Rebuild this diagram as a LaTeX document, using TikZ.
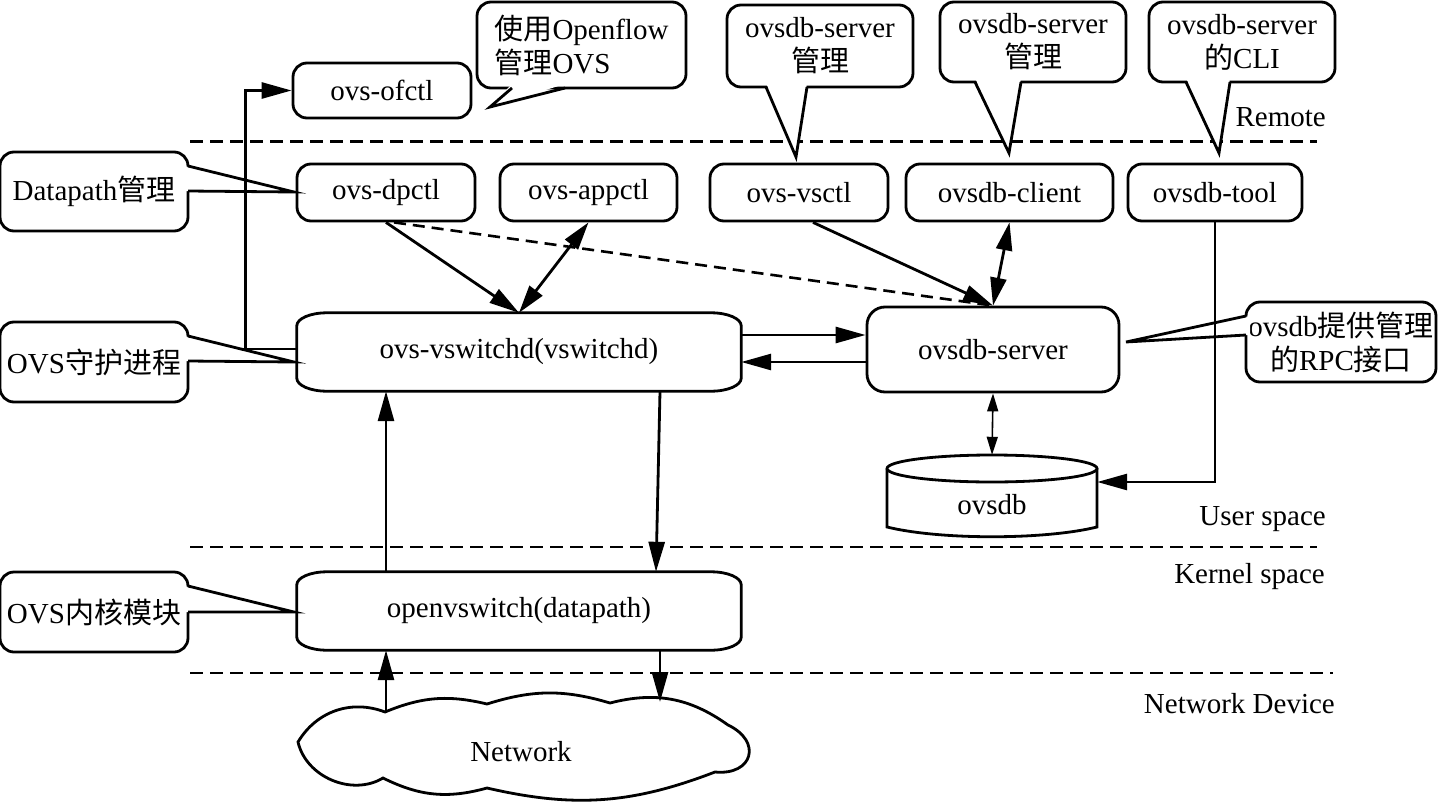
\documentclass[tikz,border=0pt]{standalone}
\usepackage{fontspec}
\setmainfont{Liberation Serif}
\newfontfamily\cjkfont{Noto Sans CJK SC}
\newcommand\zhtext[1]{{\cjkfont #1}}
\usetikzlibrary{arrows.meta}
\begin{document}
\begin{tikzpicture}[x=1pt,y=-1pt,
  font=\fontsize{29}{34}\selectfont,
  box/.style={draw, line width=2.8pt, rounded corners=14pt, fill=white, inner sep=0pt, minimum height=57pt},
  widebox/.style={fill=white, inner sep=0pt},
  boxline/.style={line width=2.8pt},
  callbox/.style={box, align=center},
  arr/.style={line width=2.8pt, -{Triangle[length=30pt,width=16pt]}},
  darr/.style={line width=2.8pt, {Triangle[length=28pt,width=16pt]}-{Triangle[length=28pt,width=16pt]}},
  sarr/.style={line width=1.6pt, {Triangle[length=18pt,width=11pt]}-{Triangle[length=18pt,width=11pt]}},
  sepline/.style={line width=2.8pt, dash pattern=on 13pt off 7pt},
  lbl/.style={inner sep=0pt, anchor=base east},
  ptr/.style={line width=2.8pt, line join=miter}]
\useasboundingbox (0,0) rectangle (1440,803);

% layer separators
\draw[sepline] (190,141.7) -- (1317,141.7);
\draw[sepline] (190,547) -- (1317,547);
\draw[sepline] (190,673) -- (1333,673);

% layer labels
\node[lbl] (lremote) at (1326,126) {Remote};
\node[lbl] (luser) at (1326,525) {User space};
\node[lbl] (lkernel) at (1325,583) {Kernel space};
\node[lbl] (lnetdev) at (1335,713) {Network Device};

% main boxes
\node[box, minimum width=178pt, minimum height=55pt] (ofctl) at (382,90.5) {ovs-ofctl};
\node[box, minimum width=178pt] (dpctl) at (386,192.5) {ovs-dpctl};
\node[box, minimum width=177pt] (appctl) at (588.5,192.5) {ovs-appctl};
\node[box, minimum width=178pt] (vsctl) at (799,192.5) {ovs-vsctl};
\node[box, minimum width=207pt] (client) at (1009.5,192.5) {ovsdb-client};
\node[box, minimum width=174pt] (tool) at (1215,192.5) {ovsdb-tool};
\node[box, rounded corners=18pt, minimum width=252pt, minimum height=85pt] (srv) at (993,349.5) {ovsdb-server};

\node[widebox, minimum width=444pt, minimum height=78pt] (vsw) at (519,352) {ovs-vswitchd(vswitchd)};
\draw[boxline] ([xshift=30pt]vsw.north west) -- ([xshift=-30pt]vsw.north east)
  arc[start angle=-90,end angle=0,x radius=30,y radius=13] -- ([yshift=13pt]vsw.south east)
  arc[start angle=0,end angle=90,x radius=30,y radius=13] -- ([xshift=30pt]vsw.south west)
  arc[start angle=90,end angle=180,x radius=30,y radius=13] -- ([yshift=-13pt]vsw.north west)
  arc[start angle=180,end angle=270,x radius=30,y radius=13] -- cycle;

\node[widebox, minimum width=444pt, minimum height=78pt] (ovs) at (519,611) {openvswitch(datapath)};
\draw[boxline] ([xshift=30pt]ovs.north west) -- ([xshift=-30pt]ovs.north east)
  arc[start angle=-90,end angle=0,x radius=30,y radius=13] -- ([yshift=13pt]ovs.south east)
  arc[start angle=0,end angle=90,x radius=30,y radius=13] -- ([xshift=30pt]ovs.south west)
  arc[start angle=90,end angle=180,x radius=30,y radius=13] -- ([yshift=-13pt]ovs.north west)
  arc[start angle=180,end angle=270,x radius=30,y radius=13] -- cycle;

% ovsdb cylinder
\draw[boxline, fill=white] (887,468.5) -- (887,527) .. controls (940,540) and (1044,540) .. (1097,527) -- (1097,468.5);
\draw[boxline, fill=white] (992,468.5) ellipse [x radius=105, y radius=13.5];
\node[inner sep=0pt, minimum width=210pt, minimum height=82pt] (ovsdb) at (992,496) {};
\node[inner sep=0pt] (ovsdbtext) at (992,505) {ovsdb};

% network cloud
\draw[boxline, fill=white]
  (298,742) to[bend left=40] (385,712) to[bend left=18] (487,704)
  to[bend left=17] (610,703) to[bend left=25] (728,725)
  to[bend left=80, looseness=2] (715,772) to[bend left=17] (487,788)
  to[bend left=21] (383,778) to[bend left=54] cycle;
\node[inner sep=0pt] (net) at (521,752) {Network};
\coordinate (netin) at (386,712);
\coordinate (netout) at (660,702);

% callouts
\node[callbox, align=left, minimum width=209pt, minimum height=86pt] (c1) at (581.5,45) {\zhtext{使用}Openflow\\\zhtext{管理}OVS};
\fill[white] (512,84) -- (490,107) -- (565,84) -- cycle;
\draw[ptr] (512,88) -- (490,107) -- (565,88);

\node[callbox, minimum width=186pt, minimum height=82pt] (c2) at (820,46) {ovsdb-server\\\zhtext{管理}};
\fill[white] (766,83) -- (796,157) -- (807,83) -- cycle;
\draw[ptr] (766,87) -- (796,157) -- (807,87);

\node[callbox, minimum width=186pt, minimum height=80pt] (c3) at (1033,42) {ovsdb-server\\\zhtext{管理}};
\fill[white] (975,78) -- (1009,153) -- (1021,78) -- cycle;
\draw[ptr] (975,82) -- (1009,153) -- (1021,82);

\node[callbox, minimum width=186pt, minimum height=80pt] (c4) at (1242,42) {ovsdb-server\\\zhtext{的}CLI};
\fill[white] (1186,78) -- (1219,153) -- (1230,78) -- cycle;
\draw[ptr] (1186,82) -- (1219,153) -- (1230,82);

\node[callbox, minimum width=188pt, minimum height=79pt] (c5) at (94,191.5) {Datapath\zhtext{管理}};
\fill[white] (184,166) -- (294,192) -- (184,191) -- cycle;
\draw[ptr] (188,166) -- (294,192) -- (188,191);

\node[callbox, minimum width=188pt, minimum height=80pt] (c6) at (94,362) {OVS\zhtext{守护进程}};
\fill[white] (184,336) -- (294,362) -- (184,361) -- cycle;
\draw[ptr] (188,336) -- (294,362) -- (188,361);

\node[callbox, minimum width=188pt, minimum height=80pt] (c7) at (94,612) {OVS\zhtext{内核模块}};
\fill[white] (184,586) -- (294,612) -- (184,612) -- cycle;
\draw[ptr] (188,586) -- (294,612) -- (188,612);

\node[callbox, minimum width=190pt, minimum height=80pt] (c8) at (1341,342) {ovsdb\zhtext{提供管理}\\\zhtext{的}RPC\zhtext{接口}};
\fill[white] (1250,316) -- (1126,342) -- (1250,335) -- cycle;
\draw[ptr] (1246,316) -- (1126,342) -- (1246,335);

% connectors
\draw[arr] ([yshift=3pt]vsw.west) -- ++(-51,0) |- (ofctl.west);
\draw[arr] (dpctl.south) -- (vsw.north);
\draw[darr] (appctl.south) -- (vsw.north);
\draw[line width=2.6pt, dash pattern=on 12pt off 7pt] ([xshift=8pt]dpctl.south) -- (srv.north);
\draw[arr] ([xshift=14pt]vsctl.south) -- (srv.north);
\draw[darr] (client.south) -- (srv.north);
\draw[arr] ([yshift=17pt]vsw.east) -- ([yshift=17pt]vsw.east -| srv.west);
\draw[arr] ([yshift=-12.5pt]srv.west) -- ([yshift=-12.5pt]srv.west -| vsw.east);
\draw[sarr] (srv.south) -- (ovsdb.north);
\draw[arr] (tool.south) |- ([yshift=14pt]ovsdb.east);
\draw[arr] ([xshift=-133pt]ovs.north) -- ([xshift=-133pt]vsw.south);
\draw[arr] ([xshift=141pt]vsw.south) -- ([xshift=137pt]ovs.north);
\draw[arr] (netin) -- ([xshift=-133pt]ovs.south);
\draw[arr] ([xshift=141pt]ovs.south) -- (netout);
\end{tikzpicture}
\end{document}
